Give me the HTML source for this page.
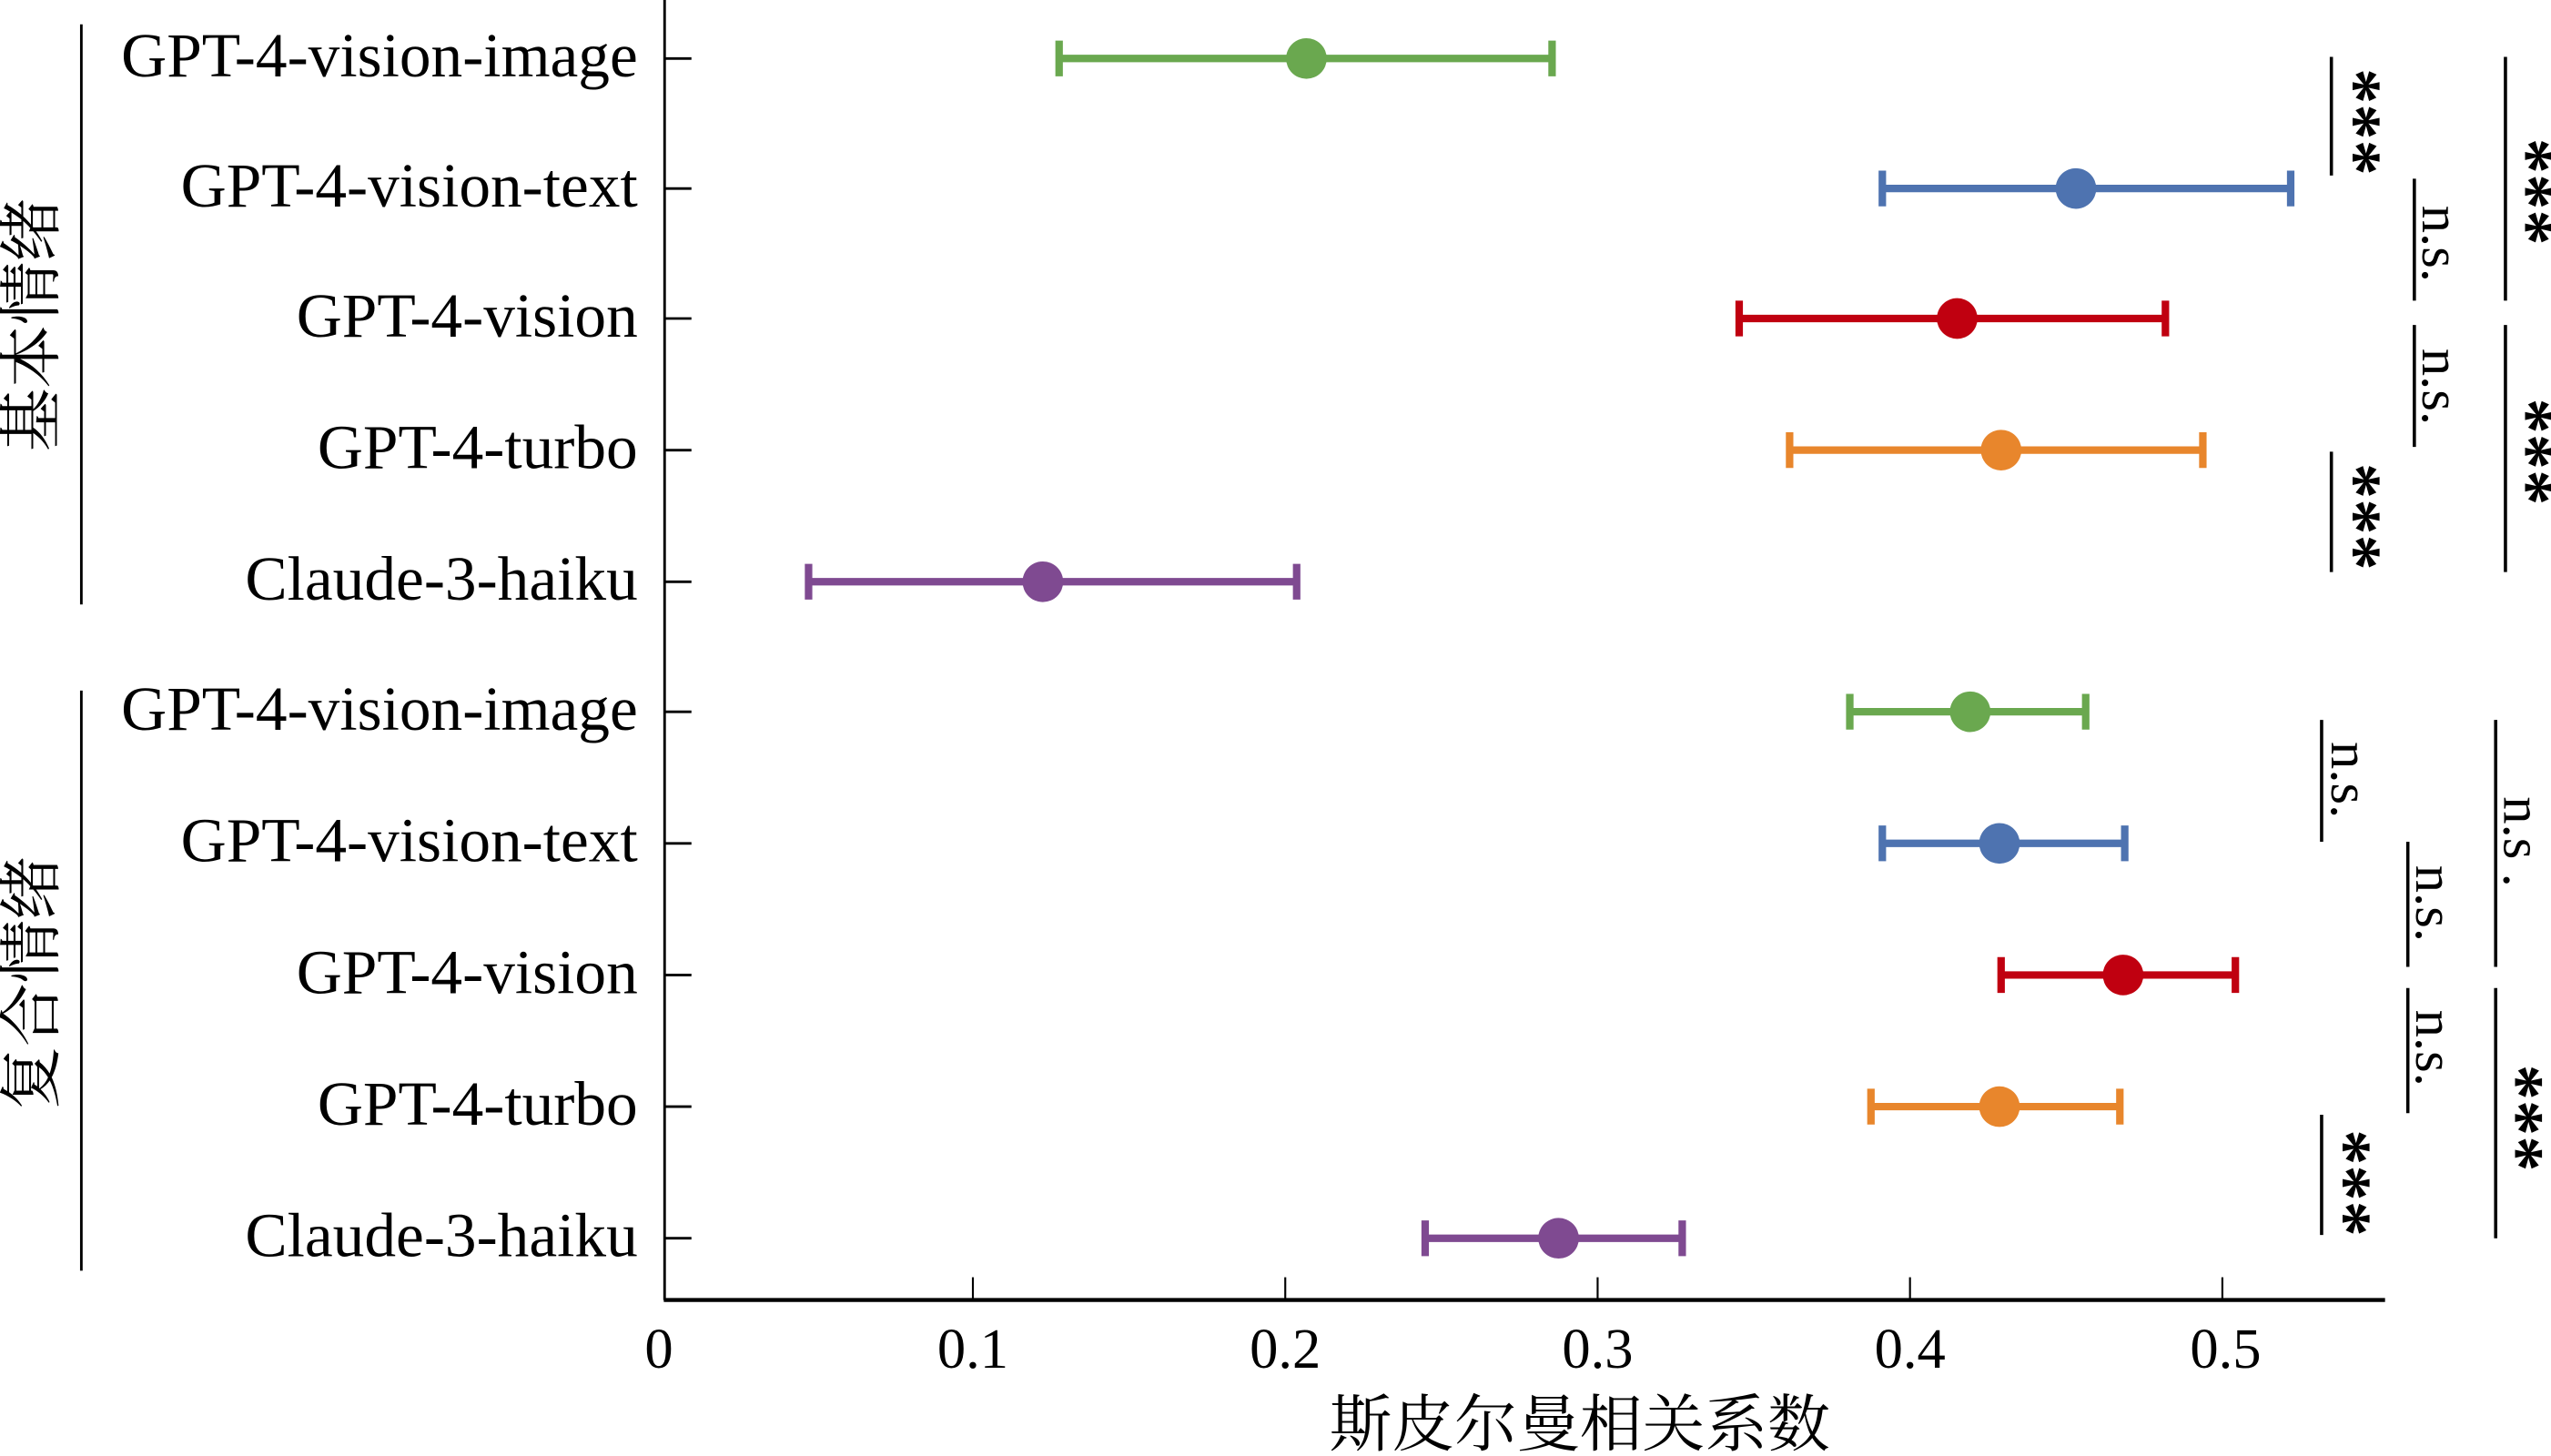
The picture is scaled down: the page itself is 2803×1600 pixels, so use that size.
<!DOCTYPE html>
<html><head><meta charset="utf-8"><style>html,body{margin:0;padding:0;background:#fff}svg{display:block}</style></head>
<body>
<svg width="2803" height="1600" viewBox="0 0 1568 896" preserveAspectRatio="none" xmlns="http://www.w3.org/2000/svg" font-family="'Liberation Serif','Noto Serif CJK SC',serif">
<rect width="1568" height="896" fill="#fff"/>
<line x1="408.5" y1="0" x2="408.5" y2="800" stroke="#000" stroke-width="1.6"/>
<line x1="408" y1="800" x2="1466" y2="800" stroke="#000" stroke-width="2.4"/>
<g stroke="#000" stroke-width="1.2">
<line x1="598" y1="800" x2="598" y2="786"/><line x1="790" y1="800" x2="790" y2="786"/><line x1="982" y1="800" x2="982" y2="786"/><line x1="1174" y1="800" x2="1174" y2="786"/><line x1="1366" y1="800" x2="1366" y2="786"/>
</g>
<g stroke="#000" stroke-width="1.6">
<line x1="408" y1="36" x2="425" y2="36"/><line x1="408" y1="116" x2="425" y2="116"/><line x1="408" y1="196" x2="425" y2="196"/><line x1="408" y1="277" x2="425" y2="277"/><line x1="408" y1="358" x2="425" y2="358"/>
<line x1="408" y1="438" x2="425" y2="438"/><line x1="408" y1="519" x2="425" y2="519"/><line x1="408" y1="600" x2="425" y2="600"/><line x1="408" y1="681" x2="425" y2="681"/><line x1="408" y1="762" x2="425" y2="762"/>
</g>
<g font-size="35" text-anchor="middle" dominant-baseline="central">
<text x="405" y="830">0</text><text x="598" y="830">0.1</text><text x="790" y="830">0.2</text><text x="982" y="830">0.3</text><text x="1174" y="830">0.4</text><text x="1368" y="830">0.5</text>
</g>
<text x="971" y="877" font-size="38.5" text-anchor="middle" dominant-baseline="central">斯皮尔曼相关系数</text>
<g font-size="38.8" text-anchor="end" dominant-baseline="central">
<text x="392" y="34">GPT-4-vision-image</text><text x="392" y="114">GPT-4-vision-text</text><text x="392" y="194">GPT-4-vision</text><text x="392" y="275">GPT-4-turbo</text><text x="392" y="356">Claude-3-haiku</text>
<text x="392" y="436">GPT-4-vision-image</text><text x="392" y="517">GPT-4-vision-text</text><text x="392" y="598">GPT-4-vision</text><text x="392" y="679">GPT-4-turbo</text><text x="392" y="760">Claude-3-haiku</text>
</g>
<line x1="50" y1="15" x2="50" y2="372" stroke="#000" stroke-width="1.6"/>
<line x1="50" y1="425" x2="50" y2="782" stroke="#000" stroke-width="1.6"/>
<text transform="translate(20,200) rotate(-90)" font-size="39" text-anchor="middle" dominant-baseline="central">基本情绪</text>
<text transform="translate(20,605) rotate(-90)" font-size="39" text-anchor="middle" dominant-baseline="central">复合情绪</text>
<g stroke-width="4.6" fill="none">
<g stroke="#6aa84f"><line x1="651" y1="36" x2="954" y2="36"/><line x1="651" y1="25" x2="651" y2="47"/><line x1="954" y1="25" x2="954" y2="47"/></g>
<g stroke="#4e73b0"><line x1="1157" y1="116" x2="1408" y2="116"/><line x1="1157" y1="105" x2="1157" y2="127"/><line x1="1408" y1="105" x2="1408" y2="127"/></g>
<g stroke="#c00010"><line x1="1069" y1="196" x2="1331" y2="196"/><line x1="1069" y1="185" x2="1069" y2="207"/><line x1="1331" y1="185" x2="1331" y2="207"/></g>
<g stroke="#e8862c"><line x1="1100" y1="277" x2="1354" y2="277"/><line x1="1100" y1="266" x2="1100" y2="288"/><line x1="1354" y1="266" x2="1354" y2="288"/></g>
<g stroke="#7f4a91"><line x1="497" y1="358" x2="797" y2="358"/><line x1="497" y1="347" x2="497" y2="369"/><line x1="797" y1="347" x2="797" y2="369"/></g>
<g stroke="#6aa84f"><line x1="1137" y1="438" x2="1282" y2="438"/><line x1="1137" y1="427" x2="1137" y2="449"/><line x1="1282" y1="427" x2="1282" y2="449"/></g>
<g stroke="#4e73b0"><line x1="1157" y1="519" x2="1306" y2="519"/><line x1="1157" y1="508" x2="1157" y2="530"/><line x1="1306" y1="508" x2="1306" y2="530"/></g>
<g stroke="#c00010"><line x1="1230" y1="600" x2="1374" y2="600"/><line x1="1230" y1="589" x2="1230" y2="611"/><line x1="1374" y1="589" x2="1374" y2="611"/></g>
<g stroke="#e8862c"><line x1="1150" y1="681" x2="1303" y2="681"/><line x1="1150" y1="670" x2="1150" y2="692"/><line x1="1303" y1="670" x2="1303" y2="692"/></g>
<g stroke="#7f4a91"><line x1="876" y1="762" x2="1034" y2="762"/><line x1="876" y1="751" x2="876" y2="773"/><line x1="1034" y1="751" x2="1034" y2="773"/></g>
</g>
<g>
<circle cx="803" cy="36" r="12.5" fill="#6aa84f"/><circle cx="1276" cy="116" r="12.5" fill="#4e73b0"/><circle cx="1203" cy="196" r="12.5" fill="#c00010"/><circle cx="1230" cy="277" r="12.5" fill="#e8862c"/><circle cx="641" cy="358" r="12.5" fill="#7f4a91"/>
<circle cx="1211" cy="438" r="12.5" fill="#6aa84f"/><circle cx="1229" cy="519" r="12.5" fill="#4e73b0"/><circle cx="1305" cy="600" r="12.5" fill="#c00010"/><circle cx="1229" cy="681" r="12.5" fill="#e8862c"/><circle cx="958" cy="762" r="12.5" fill="#7f4a91"/>
</g>
<g stroke="#000" stroke-width="2">
<line x1="1433" y1="35" x2="1433" y2="108"/><line x1="1433" y1="278" x2="1433" y2="352"/>
<line x1="1484" y1="110" x2="1484" y2="185"/><line x1="1484" y1="200" x2="1484" y2="275"/>
<line x1="1540" y1="35" x2="1540" y2="185"/><line x1="1540" y1="200" x2="1540" y2="352"/>
<line x1="1427" y1="443" x2="1427" y2="518"/><line x1="1427" y1="686" x2="1427" y2="760"/>
<line x1="1480" y1="518" x2="1480" y2="595"/><line x1="1480" y1="608" x2="1480" y2="685"/>
<line x1="1534" y1="443" x2="1534" y2="595"/><line x1="1534" y1="608" x2="1534" y2="762"/>
</g>
<g font-size="34" text-anchor="middle" dominant-baseline="central">
<text transform="translate(1500,150) rotate(90)">n.s.</text>
<text transform="translate(1500,238) rotate(90)">n.s.</text>
<text transform="translate(1444,480) rotate(90)">n.s.</text>
<text transform="translate(1496,556) rotate(90)">n.s.</text>
<text transform="translate(1496,645) rotate(90)">n.s.</text>
<text transform="translate(1550,518) rotate(90)">n.s .</text>
</g>
<g font-size="44" font-weight="bold" text-anchor="middle" dominant-baseline="central">
<text transform="translate(1448,75) rotate(90)">***</text>
<text transform="translate(1448,318) rotate(90)">***</text>
<text transform="translate(1554,118) rotate(90)">***</text>
<text transform="translate(1554,278) rotate(90)">***</text>
<text transform="translate(1442,728) rotate(90)">***</text>
<text transform="translate(1548,688) rotate(90)">***</text>
</g>
</svg>
</body></html>
